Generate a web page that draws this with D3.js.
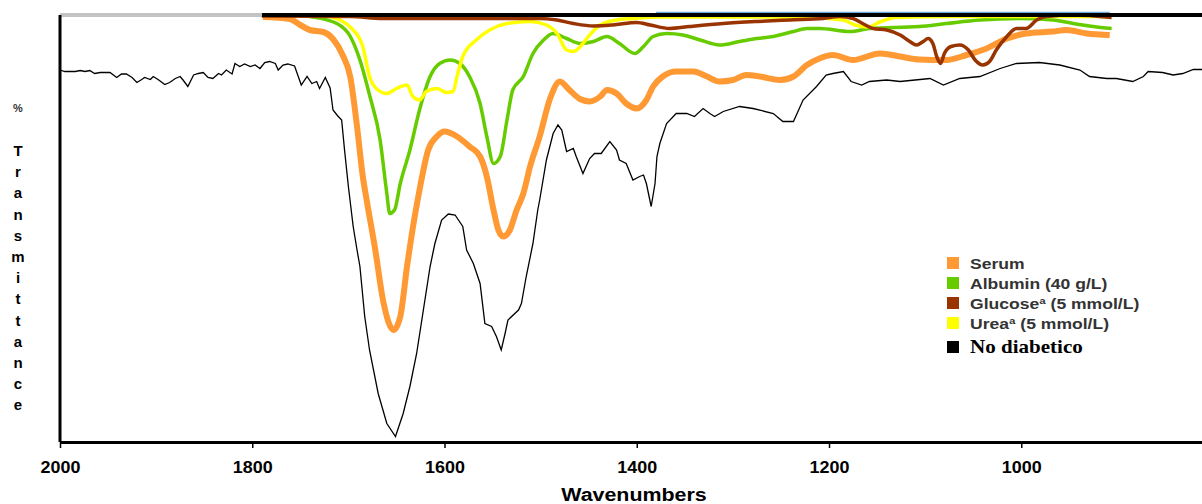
<!DOCTYPE html>
<html>
<head>
<meta charset="utf-8">
<script src="https://cdn.jsdelivr.net/npm/d3@7"></script>
<style>
  body { margin: 0; background: #fff; }
  svg { display: block; }
</style>
</head>
<body>
<svg id="chart" width="1202" height="504"></svg>
<script>
// Wavenumber ticks
var xTicks = [2000, 1800, 1600, 1400, 1200, 1000];

// Spectra: [wavenumber, %T] (arbitrary transmittance scale)
var noDiabetico = [[2000,74.4],[1995,74.1],[1984,74.1],[1979,74.3],[1974,74.1],[1969,74.3],[1964,73.7],[1958,73.9],[1948,73.9],
  [1941,72.9],[1936,73.6],[1931,73.6],[1925,72.9],[1920,71.9],[1915,72.5],[1912,72.9],[1906,72.5],[1903,73.1],[1898,72.5],
  [1891,71.5],[1886,71.9],[1880,72.7],[1875,73.1],[1872,72.4],[1867,71.1],[1861,73.4],[1856,73.7],[1851,73.9],[1846,72.9],
  [1841,72.7],[1835,73.7],[1832,73.4],[1827,74.4],[1821,73.6],[1818,75.7],[1813,75.1],[1808,75.6],[1802,75.1],[1797,75.4],
  [1792,74.7],[1787,75.9],[1782,76.1],[1776,75.7],[1773,74.4],[1768,75.4],[1763,75.6],[1756,75.2],[1749,71.4],[1743,73.1],
  [1738,71.7],[1733,72.1],[1730,70.7],[1724,72.9],[1719,70.8],[1716,66.4],[1711,65.2],[1707,64.4],[1704,58.4],[1700,51.1],
  [1695,43.1],[1691,38.4],[1688,35.1],[1683,25.1],[1678,18.4],[1669,9.7],[1660,3.7],[1651,1.1],[1643,5.7],[1636,11.1],
  [1629,17.7],[1622,26.4],[1615,35.1],[1610,39.7],[1603,44.4],[1596,45.6],[1589,45.4],[1581,43.1],[1577,38.4],[1570,35.7],
  [1563,31.7],[1558,23.7],[1551,23.1],[1546,21.1],[1541,18.4],[1537,21.7],[1534,24.4],[1523,26.4],[1520,27.7],[1515,33.1],
  [1508,39.7],[1503,46.4],[1501,48.4],[1494,56.4],[1487,61.7],[1482,63.4],[1478,62.4],[1473,58.1],[1466,58.7],[1463,57.1],
  [1456,53.7],[1449,56.7],[1444,57.7],[1437,57.7],[1428,60.1],[1421,58.4],[1418,56.4],[1411,55.7],[1404,52.4],[1397,53.1],
  [1393,53.4],[1390,51.7],[1385,47.1],[1381,51.7],[1379,57.1],[1376,59.7],[1369,63.7],[1359,65.7],[1348,65.7],[1340,65.1],
  [1331,66.7],[1324,65.7],[1319,65.1],[1310,66.1],[1293,67.1],[1279,66.7],[1258,65.7],[1248,64.1],[1237,64.1],[1227,68.4],
  [1213,71.1],[1203,73.4],[1196,73.7],[1185,74.1],[1177,72.1],[1166,71.4],[1158,72.1],[1140,72.4],[1126,72.1],[1095,72.7],
  [1081,71.4],[1064,72.7],[1043,73.1],[1022,74.7],[1005,75.7],[981,75.9],[960,75.4],[939,74.4],[929,73.1],[911,72.7],
  [901,72.7],[884,72.1],[873,73.1],[868,74.1],[853,73.9],[842,73.4],[832,73.7],[821,74.5],[812,74.5]];

var serum = [[1789,85],[1761,84.6],[1750,83.4],[1740,82.4],[1726,82],[1716,80.6],[1706,77.4],[1698,73],[1691,63.1],
  [1685,53.1],[1681,48.4],[1672,38.4],[1664,28.4],[1653,22.4],[1646,25.1],[1639,35.1],[1631,45.1],[1626,50.4],[1617,58.4],
  [1608,61.1],[1600,62.1],[1587,61.1],[1574,59.1],[1563,57.1],[1556,53.1],[1549,46.4],[1544,42.4],[1539,41.1],[1532,42.4],
  [1525,46.4],[1518,49.7],[1511,55.1],[1501,61.1],[1490,68.8],[1480,72.1],[1470,70.4],[1459,68.6],[1449,68.1],[1438,69.1],
  [1431,70.4],[1421,69.7],[1411,67.7],[1400,66.7],[1390,68.4],[1383,71.1],[1373,73.1],[1359,74.1],[1341,74.1],[1327,73.1],
  [1314,72.1],[1300,72.4],[1286,73.4],[1272,73.1],[1251,72.4],[1237,73.1],[1223,75.4],[1210,76.7],[1196,77.4],[1175,76.4],
  [1147,77.7],[1126,77.1],[1106,76.5],[1078,76.4],[1057,77.4],[1036,78.7],[1015,80.7],[995,81.7],[967,82.1],[953,82.4],
  [932,81.7],[908,81.4]];

var albumin = [[1750,85.4],[1740,85.1],[1712,83.7],[1698,81.1],[1688,76.4],[1678,69.4],[1667,60.4],[1660,49.7],[1657,45.7],
  [1652,46.4],[1646,51.7],[1636,58.4],[1626,66.4],[1615,73.1],[1605,75.7],[1594,76.4],[1584,75.7],[1574,73.1],[1563,67.7],
  [1556,61.1],[1549,55.7],[1542,57.1],[1535,64.4],[1529,70.4],[1518,73.1],[1508,77.7],[1497,80.4],[1487,81.7],[1473,80.7],
  [1459,79.7],[1445,80.1],[1431,81.1],[1418,79.7],[1402,77.7],[1393,79.1],[1383,81.1],[1369,81.7],[1352,81.4],[1334,80.4],
  [1314,79.4],[1293,80.1],[1275,80.7],[1258,81.1],[1237,82.1],[1223,82.7],[1210,82.7],[1178,82.1],[1158,82.7],[1106,83.1],
  [1078,83.7],[1043,84.4],[1002,84.7],[967,84.4],[946,83.7],[925,83.1],[906,82.7]];

var glucose = [[1790,85.2],[1698,85.1],[1664,84.7],[1501,84.7],[1483,84.4],[1466,83.7],[1445,83.2],[1425,83.4],[1400,83.9],
  [1386,83.4],[1366,82.7],[1345,83.1],[1310,83.7],[1275,84.1],[1241,84.4],[1206,84.7],[1189,85.1],[1175,84.7],[1165,83.7],
  [1154,82.7],[1140,82.4],[1126,81.4],[1116,80.1],[1109,79.4],[1102,80.1],[1097,80.7],[1092,79.7],[1088,77.1],[1084,75.7],
  [1080,77.7],[1073,79.1],[1064,79.4],[1055,78.4],[1048,76.4],[1040,75.4],[1033,76.1],[1026,78.4],[1015,81.1],[1005,82.7],
  [995,82.7],[984,84.4],[974,85.1],[946,85.4],[906,84.9]];

var urea = [[1730,85.4],[1719,85.1],[1695,82.4],[1685,79.1],[1678,73.1],[1671,70.7],[1660,69.7],[1650,70.7],[1639,71.4],
  [1633,69.1],[1626,68.4],[1619,70.1],[1608,70.7],[1598,69.9],[1591,70.1],[1587,73.1],[1581,77.1],[1567,80.4],[1553,82.4],
  [1535,83.7],[1511,84.1],[1494,83.4],[1483,81.7],[1473,78.4],[1466,78.1],[1456,79.7],[1449,81.4],[1438,83.4],[1421,84.4],
  [1404,84.7],[1376,85],[1230,85],[1185,84.4],[1173,83.4],[1160,83],[1147,84],[1131,84.9],[1074,85.1],[908,85.1]];

// frame lines along the top
var topBlack = [[1790,85.4],[812,85.4]];
var topBlue = [[1380,85.9],[908,85.9]];
var topGray = [[2000,85.4],[1790,85.4]];

var legendLabels = ['Serum', 'Albumin (40 g/L)', 'Glucoseª (5 mmol/L)', 'Ureaª (5 mmol/L)', 'No diabetico'];
var legendColors = ['#ff9933', '#66cc00', '#993300', '#ffff00', '#000000'];

var svg = d3.select('#chart');

var x = d3.scaleLinear().domain([2000, 812]).range([60, 1202]);
var y = d3.scaleLinear().domain([0, 86]).range([442, 12]);

var smooth = d3.line().x(function(d){ return x(d[0]); }).y(function(d){ return y(d[1]); }).curve(d3.curveMonotoneX);
var straight = d3.line().x(function(d){ return x(d[0]); }).y(function(d){ return y(d[1]); });

// spectra
svg.append('path').attr('d', straight(noDiabetico))
  .attr('fill', 'none').attr('stroke', '#000').attr('stroke-width', 1.3);

function drawSeries(data, color, width) {
  svg.append('path').attr('d', smooth(data))
    .attr('fill', 'none').attr('stroke', color)
    .attr('stroke-width', width).attr('stroke-linejoin', 'round');
}
drawSeries(serum, '#ff9933', 6);
drawSeries(albumin, '#66cc00', 3.5);
drawSeries(urea, '#ffff00', 3.5);
drawSeries(glucose, '#993300', 3.5);

// top border pieces
svg.append('path').attr('d', straight(topBlue)).attr('stroke', '#6fa8dc').attr('stroke-width', 1.5).attr('fill', 'none');
svg.append('path').attr('d', straight(topBlack)).attr('stroke', '#000').attr('stroke-width', 4).attr('fill', 'none');
svg.append('path').attr('d', straight(topGray)).attr('stroke', '#888').attr('stroke-width', 3).attr('fill', 'none');
svg.append('path').attr('d', straight(topGray)).attr('stroke', '#fff').attr('stroke-width', 1).attr('fill', 'none');

// left axis line
svg.append('line')
  .attr('x1', x(2000)).attr('x2', x(2000))
  .attr('y1', y(85.4)).attr('y2', y(0))
  .attr('stroke', '#000').attr('stroke-width', 3);

// bottom axis
var xAxis = svg.append('g')
  .attr('transform', 'translate(0,' + y(0) + ')')
  .call(d3.axisBottom(x).tickValues(xTicks).tickSize(6).tickSizeOuter(0).tickFormat(d3.format('d')));
xAxis.select('.domain').attr('stroke-width', 3);
xAxis.selectAll('.tick line').attr('stroke-width', 1.5);
xAxis.selectAll('.tick text')
  .attr('y', 31).attr('dy', 0)
  .attr('transform', 'scale(1.12,1)')
  .style('font-family', '"Liberation Sans", Arial, sans-serif')
  .style('font-weight', 'bold').style('font-size', '16px').attr('fill', '#000');

svg.append('text')
  .attr('transform', 'translate(634,501) scale(1.19,1)')
  .attr('text-anchor', 'middle')
  .style('font-family', '"Liberation Sans", Arial, sans-serif')
  .style('font-weight', 'bold').style('font-size', '18px')
  .text('Wavenumbers');

// y label, one letter per row
svg.append('text')
  .attr('x', 18).attr('y', 112).attr('text-anchor', 'middle')
  .style('font-family', '"Liberation Sans", Arial, sans-serif')
  .style('font-weight', 'bold').style('font-size', '11px').attr('fill', '#333')
  .text('%');

svg.selectAll('.ylet')
  .data('Transmittance'.split(''))
  .enter().append('text')
  .attr('class', 'ylet')
  .attr('x', 18)
  .attr('y', function(d, i){ return 156 + i * 21.2; })
  .attr('text-anchor', 'middle')
  .style('font-family', '"Liberation Sans", Arial, sans-serif')
  .style('font-weight', 'bold').style('font-size', '15px')
  .text(function(d){ return d; });

// legend
var rowY = [263, 283, 303, 323, 347];
var legend = svg.selectAll('.leg')
  .data(legendLabels)
  .enter().append('g')
  .attr('class', 'leg')
  .attr('transform', function(d, i){ return 'translate(947,' + rowY[i] + ')'; });

legend.append('rect')
  .attr('x', 0).attr('y', -6).attr('width', 12).attr('height', 12)
  .attr('fill', function(d, i){ return legendColors[i]; });

legend.append('text')
  .attr('transform', 'translate(23,6) scale(1.17,1)')
  .style('font-family', function(d, i){ return i == 4 ? '"Liberation Serif", "Times New Roman", serif' : '"Liberation Sans", Arial, sans-serif'; })
  .style('font-weight', 'bold')
  .style('font-size', function(d, i){ return i == 4 ? '18px' : '15px'; })
  .attr('fill', function(d, i){ return i == 4 ? '#000' : '#333'; })
  .text(function(d){ return d; });
</script>
</body>
</html>
